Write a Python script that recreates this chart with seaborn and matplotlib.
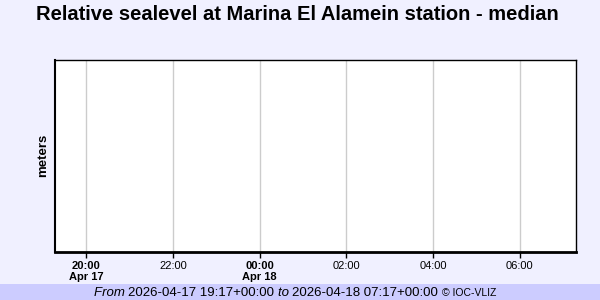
import matplotlib
matplotlib.use("Agg")
import matplotlib.pyplot as plt
import pandas as pd
import seaborn as sns

# ---- data ----
title = "Relative sealevel at Marina El Alamein station - median"
ylabel = "meters"
range_start = "2026-04-17 19:17"
range_end = "2026-04-18 07:17"
tick_times = ["2026-04-17 20:00", "2026-04-17 22:00", "2026-04-18 00:00",
              "2026-04-18 02:00", "2026-04-18 04:00", "2026-04-18 06:00"]
tick_labels = ["20:00\nApr 17", "22:00", "00:00\nApr 18", "02:00", "04:00", "06:00"]
tick_bold = [True, False, True, False, False, False]
times = []      # no observations in this window
sealevel = []
footer_parts = [("From ", "italic", 9.5), ("2026-04-17 19:17+00:00 ", "normal", 9.5),
                ("to ", "italic", 9.5), ("2026-04-18 07:17+00:00 ", "normal", 9.5),
                ("© IOC-VLIZ", "normal", 7.5)]

sns.set_style("white")
plt.rcParams["font.family"] = ["Liberation Sans", "DejaVu Sans"]
for k in ["text.color", "axes.labelcolor", "xtick.color", "ytick.color"]:
    plt.rcParams[k] = "black"

BG = "#F0F0FF"
fig = plt.figure(figsize=(6, 3), dpi=100, facecolor=BG)
ax = fig.add_axes([55 / 600, 48.5 / 300, 520.5 / 600, 191.5 / 300])
ax.set_facecolor("white")

df = pd.DataFrame({"time": pd.to_datetime(pd.Series(times, dtype="object")),
                   "meters": pd.Series(sealevel, dtype="float64")})
if len(df):
    sns.lineplot(data=df, x="time", y="meters", ax=ax)

ax.set_xlim(pd.Timestamp(range_start), pd.Timestamp(range_end))
ax.set_ylim(0, 1)
ticks = [pd.Timestamp(t) for t in tick_times]
ax.set_xticks(ticks)
ax.set_xticklabels(tick_labels, fontsize=8, linespacing=1.05)
for lab, b in zip(ax.get_xticklabels(), tick_bold):
    lab.set_fontweight("bold" if b else "normal")
ax.set_yticks([])
ax.grid(axis="x", color="#CCCCCC", linewidth=1)
ax.tick_params(axis="x", direction="out", length=4, width=1, colors="black",
               pad=3, bottom=True)

for side, w in [("left", 1.5), ("bottom", 2), ("top", 1), ("right", 1)]:
    ax.spines[side].set_visible(True)
    ax.spines[side].set_color("black")
    ax.spines[side].set_linewidth(w)

ax.set_xlabel("")
ax.set_ylabel(ylabel, fontsize=9.5, fontweight="bold", labelpad=4)

fig.text(0.495, 1 - 15 / 300, title, ha="center", va="center",
         fontsize=14.5, fontweight="bold")

# footer strip
fig.patches.append(plt.Rectangle((0, 0), 1, 16 / 300, transform=fig.transFigure,
                                 facecolor="#CCCCFF", edgecolor="none", zorder=0))
fig.canvas.draw()
renderer = fig.canvas.get_renderer()
texts = []
for s, style, size in footer_parts:
    t = fig.text(0, 7.5 / 300, s, ha="left", va="center", fontsize=size, style=style)
    texts.append(t)
widths = [t.get_window_extent(renderer).width for t in texts]
total = sum(widths)
x = (590 - total) / 2
for t, w in zip(texts, widths):
    t.set_x(x / 600)
    x += w

fig.savefig("out.png", dpi=100, facecolor=BG)
